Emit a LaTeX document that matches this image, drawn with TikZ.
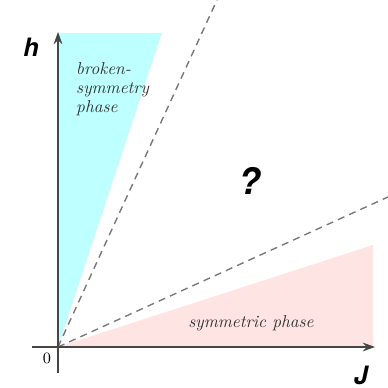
\documentclass[tikz,border=0pt]{standalone}
\usepackage{fontspec}
\setsansfont{TeX Gyre Heros}
\usetikzlibrary{arrows.meta,calc}
\definecolor{brokencyan}{RGB}{190,255,255}
\definecolor{sympink}{RGB}{255,228,228}
\definecolor{axisgray}{RGB}{70,70,70}
\definecolor{dashgray}{RGB}{120,120,120}

\begin{document}
\begin{tikzpicture}[x=0.02cm,y=0.02cm,
    axis/.style={axisgray,line width=0.8pt,-{Stealth[length=7pt,width=5pt]}},
    boundary/.style={dashgray,line width=0.8pt,dash pattern=on 4pt off 3pt},
    axlabel/.style={font=\sffamily\bfseries\itshape\Large,inner sep=1pt},
    phaselabel/.style={font=\itshape\fontsize{9.8}{10.8}\selectfont,text=black!80,align=left}]
    \useasboundingbox (0,0) rectangle (388,388);
    \coordinate (O) at (58,41);
    % phase regions
    \fill[brokencyan] (O) -- (58,355) -- (162,355) -- cycle;
    \fill[sympink] (O) -- (373,143) -- (373,41) -- cycle;
    % crossovers
    \coordinate (c1) at (217,388);
    \coordinate (c2) at (388,191);
    \draw[boundary] (O) -- (c1);
    \draw[boundary] (O) -- (c2);
    % axes
    \coordinate (ybot) at (58,15);
    \coordinate (ytop) at (58,356);
    \coordinate (xleft) at (32,41);
    \coordinate (xright) at (375,41);
    \draw[axis] (ybot) -- (ytop);
    \draw[axis] (xleft) -- (xright);
    \node[axlabel] (hlab) at (31,341) {h};
    \node[axlabel] (jlab) at (361,13) {J};
    \node (zero) at (47,30) {\small 0};
    \node[font=\sffamily\bfseries\itshape\huge] (unknown) at (250,207) {?};
    \node[phaselabel,anchor=west] (broken) at (70,299) {broken-\\symmetry\\phase};
    \node[phaselabel] (sym) at (251,65) {symmetric phase};
\end{tikzpicture}
\end{document}
